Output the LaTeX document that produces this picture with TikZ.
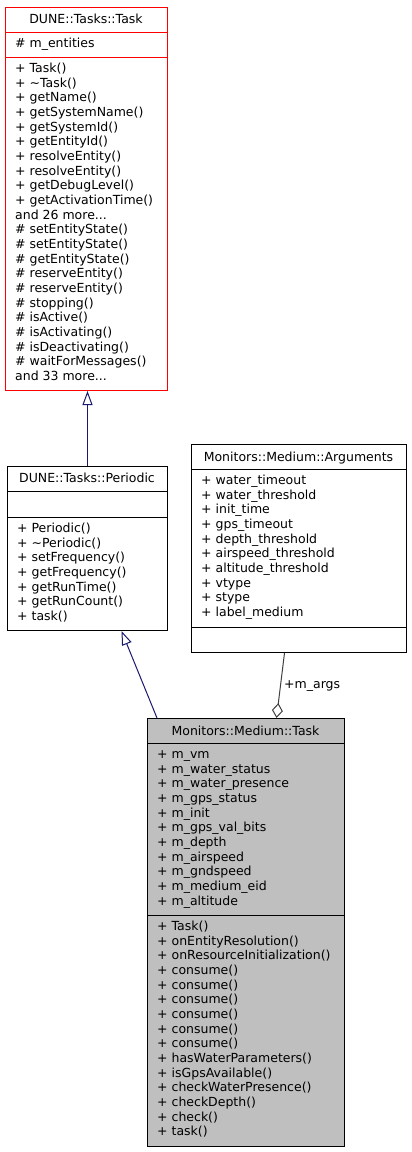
\documentclass[tikz,border=0pt]{standalone}
\usepackage{fontspec}
\setmainfont{DejaVu Sans}
\usetikzlibrary{arrows.meta}
\definecolor{grey25}{HTML}{404040}
\definecolor{grey75}{HTML}{BFBFBF}
\definecolor{midnightblue}{HTML}{191970}
\newcommand\umlfont{\fontsize{12.5bp}{14.67bp}\selectfont}
\newcommand\umldots{...}
\begin{document}
\begin{tikzpicture}[x=1bp,y=-1bp,
  classbox/.style={draw=black, line width=1bp, fill=white, rectangle, inner sep=0pt, anchor=north west},
  member/.style={inner sep=0pt, anchor=base west, font=\umlfont},
  ctitle/.style={inner sep=0pt, anchor=base, font=\umlfont},
  sepline/.style={line width=1bp},
  inh/.style={draw=midnightblue, line width=1bp, -{Triangle[open, length=14bp, width=10bp, fill=white]}},
  agg/.style={draw=grey25, line width=1bp, -{Diamond[open, length=15bp, width=11bp, fill=white]}},
]
\useasboundingbox (0,0) rectangle (411,1152);

% DUNE::Tasks::Task
\node[classbox, draw=red, minimum width=162bp, minimum height=383bp] (task) at (5,7) {};
\draw[sepline, red] (task.west |- 0,32) -- (task.east |- 0,32);
\draw[sepline, red] (task.west |- 0,57) -- (task.east |- 0,57);
\node[ctitle] (tasktitle) at (86,23.5) {DUNE::Tasks::Task};
\node[member] (taskattr) at (15,47.5) {\# m\_entities};
\foreach \t [count=\i from 0] in {
  {+ Task()}, {+ \textasciitilde Task()}, {+ getName()}, {+ getSystemName()},
  {+ getSystemId()}, {+ getEntityId()}, {+ resolveEntity()}, {+ resolveEntity()},
  {+ getDebugLevel()}, {+ getActivationTime()}, {and 26 more\umldots},
  {\# setEntityState()}, {\# setEntityState()}, {\# getEntityState()},
  {\# reserveEntity()}, {\# reserveEntity()}, {\# stopping()}, {\# isActive()},
  {\# isActivating()}, {\# isDeactivating()}, {\# waitForMessages()}, {and 33 more\umldots}}
  \node[member] (tm\i) at (15,{72.5+\i*14.67}) {\t};

% DUNE::Tasks::Periodic
\node[classbox, minimum width=160bp, minimum height=164bp] (periodic) at (7,466) {};
\draw[sepline] (periodic.west |- 0,491) -- (periodic.east |- 0,491);
\draw[sepline] (periodic.west |- 0,517) -- (periodic.east |- 0,517);
\node[ctitle] (periodictitle) at (87,482.5) {DUNE::Tasks::Periodic};
\foreach \t [count=\i from 0] in {
  {+ Periodic()}, {+ \textasciitilde Periodic()}, {+ setFrequency()}, {+ getFrequency()},
  {+ getRunTime()}, {+ getRunCount()}, {+ task()}}
  \node[member] (pm\i) at (17,{532.5+\i*14.67}) {\t};

% Monitors::Medium::Arguments
\node[classbox, minimum width=215bp, minimum height=208bp] (args) at (191,444) {};
\draw[sepline] (args.west |- 0,469) -- (args.east |- 0,469);
\draw[sepline] (args.west |- 0,627) -- (args.east |- 0,627);
\node[ctitle] (argstitle) at (298.5,461) {Monitors::Medium::Arguments};
\foreach \t [count=\i from 0] in {
  {+ water\_timeout}, {+ water\_threshold}, {+ init\_time}, {+ gps\_timeout},
  {+ depth\_threshold}, {+ airspeed\_threshold}, {+ altitude\_threshold},
  {+ vtype}, {+ stype}, {+ label\_medium}}
  \node[member] (am\i) at (201,{484.5+\i*14.67}) {\t};

% Monitors::Medium::Task
\node[classbox, fill=grey75, minimum width=197bp, minimum height=428bp] (mtask) at (147,718) {};
\draw[sepline] (mtask.west |- 0,743) -- (mtask.east |- 0,743);
\draw[sepline] (mtask.west |- 0,915) -- (mtask.east |- 0,915);
\node[ctitle] (mtasktitle) at (245.5,735) {Monitors::Medium::Task};
\foreach \t [count=\i from 0] in {
  {+ m\_vm}, {+ m\_water\_status}, {+ m\_water\_presence}, {+ m\_gps\_status},
  {+ m\_init}, {+ m\_gps\_val\_bits}, {+ m\_depth}, {+ m\_airspeed},
  {+ m\_gndspeed}, {+ m\_medium\_eid}, {+ m\_altitude}}
  \node[member] (ma\i) at (157,{758.5+\i*14.67}) {\t};
\foreach \t [count=\i from 0] in {
  {+ Task()}, {+ onEntityResolution()}, {+ onResourceInitialization()},
  {+ consume()}, {+ consume()}, {+ consume()}, {+ consume()}, {+ consume()}, {+ consume()},
  {+ hasWaterParameters()}, {+ isGpsAvailable()}, {+ checkWaterPresence()},
  {+ checkDepth()}, {+ check()}, {+ task()}}
  \node[member] (mm\i) at (157,{930.5+\i*14.67}) {\t};

% connectors
\draw[inh] (periodic.north) -- (periodic.north |- task.south);
\draw[inh] ([xshift=10bp]mtask.north west) -- ([xshift=34bp]periodic.south);
\draw[agg] ([xshift=-14.5bp]args.south) -- ([xshift=30.5bp]mtask.north);
\node[member] (margs) at (284,688) {+m\_args};
\end{tikzpicture}
\end{document}
